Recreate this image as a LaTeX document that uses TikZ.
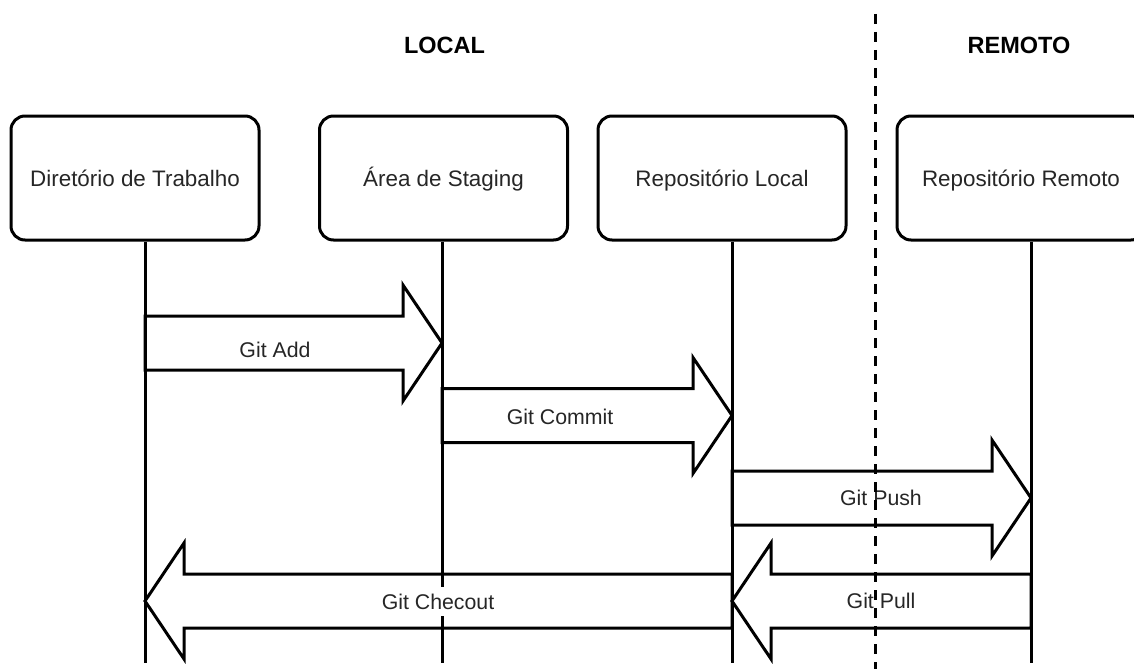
\documentclass[tikz,border=0pt]{standalone}
\usepackage{fontspec}
\setmainfont{Liberation Sans}
\usetikzlibrary{calc}

% fat block arrow between two lifelines at a given row height
\newcommand\blockarrow[3]{%
  \draw[fat] let \p1=(#1), \p2=(#2), \p3=(0,#3), \n1={39*sign(\x2-\x1)} in
    (\x1,\y3+27) -- (\x2-\n1,\y3+27) -- (\x2-\n1,\y3+58) -- (\x2,\y3)
    -- (\x2-\n1,\y3-58) -- (\x2-\n1,\y3-27) -- (\x1,\y3-27) -- cycle;}

\begin{document}
\begin{tikzpicture}[x=1pt,y=-1pt,
  stage/.style={draw, line width=3pt, rounded corners=14pt,
    minimum width=248pt, minimum height=124pt, inner sep=0pt,
    text height=16pt, text depth=0pt,
    font=\fontsize{22.4}{25}\selectfont, text=black!85},
  zone/.style={font=\bfseries\fontsize{23.5}{26}\selectfont, text=black,
    text height=16.8pt, text depth=0pt, inner sep=0pt},
  lifeline/.style={line width=3pt},
  fat/.style={line width=3pt, line join=miter},
  steplabel/.style={font=\fontsize{21.3}{24}\selectfont, text=black!85,
    fill=white, inner xsep=2pt, inner ysep=7pt,
    text height=15.25pt, text depth=0pt},
  divider/.style={line width=3pt, dash pattern=on 10pt off 8pt}]

\useasboundingbox (0,0) rectangle (1134,669);
\clip (0,0) rectangle (1134,669);

% zone titles
\node[zone] (local) at (444.5,45) {LOCAL};
\node[zone] (remote) at (1019,45) {REMOTO};

% participants
\node[stage] (wdir)  at (135,178)   {Diretório de Trabalho};
\node[stage] (stag)  at (443.5,178) {Área de Staging};
\node[stage] (lrepo) at (722,178)   {Repositório Local};
\node[stage] (rrepo) at (1021,178)  {Repositório Remoto};

% lifeline ends
\coordinate (wdirE)  at (145,663);
\coordinate (stagE)  at (442,663);
\coordinate (lrepoE) at (732,663);
\coordinate (rrepoE) at (1031,663);

\draw[lifeline] (wdir.south -| wdirE) -- (wdirE);
\draw[lifeline] (stag.south -| stagE) -- (stagE);
\draw[lifeline] (lrepo.south -| lrepoE) -- (lrepoE);
\draw[lifeline] (rrepo.south -| rrepoE) -- (rrepoE);

% commands
\blockarrow{wdirE}{stagE}{343}
\blockarrow{stagE}{lrepoE}{415.5}
\blockarrow{lrepoE}{rrepoE}{498}
\blockarrow{rrepoE}{lrepoE}{601}
\blockarrow{lrepoE}{wdirE}{601}

\node[steplabel] (add)      at (275,349.5) {Git Add};
\node[steplabel] (commit)   at (560,416.5) {Git Commit};
\node[steplabel] (push)     at (881,498)   {Git Push};
\node[steplabel] (pull)     at (881,601)   {Git Pull};
\node[steplabel] (checkout) at (438,601.5) {Git Checout};

% boundary between local and remote side
\coordinate (divtop) at (875,14);
\coordinate (divbot) at (875,669);
\draw[divider] (divtop) -- (divbot);
\end{tikzpicture}
\end{document}
